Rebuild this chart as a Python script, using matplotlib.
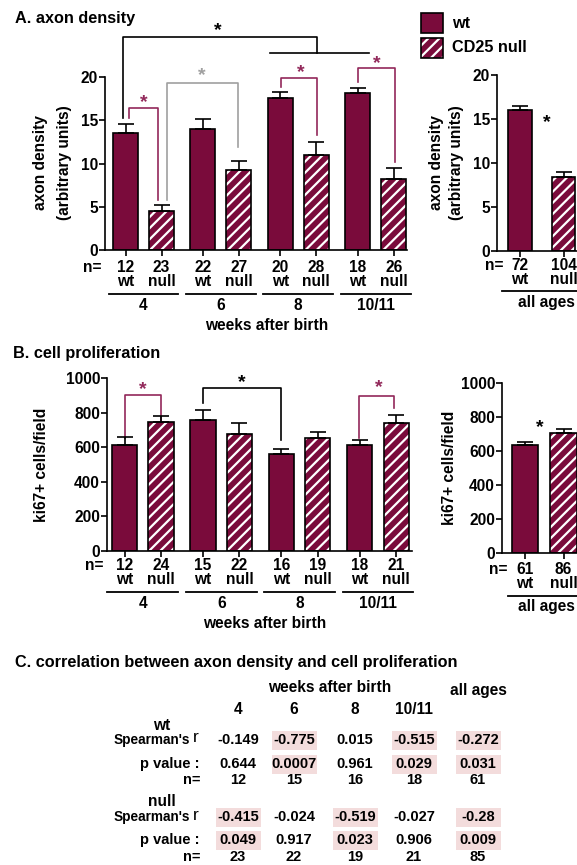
import matplotlib
matplotlib.use('Agg')
import matplotlib.pyplot as plt
from matplotlib.transforms import blended_transform_factory
from matplotlib.patches import Rectangle
import numpy as np

plt.rcParams['font.family'] = ['Liberation Sans', 'DejaVu Sans']
plt.rcParams['font.weight'] = 'bold'
plt.rcParams['hatch.linewidth'] = 1.6

W, H = 577, 865
CRIMSON = '#7a0b3b'
BRK = '#92285a'
GRAY = '#a0a0a0'
FS = 11.2

# ---------------- data ----------------
groups = ['4', '6', '8', '10/11']
genotypes = ['wt', 'null']

axon_mean = [13.5, 4.5, 14.0, 9.2, 17.6, 11.0, 18.2, 8.2]
axon_sem = [1.05, 0.7, 1.1, 1.1, 0.7, 1.5, 0.5, 1.3]
axon_n = [12, 23, 22, 27, 20, 28, 18, 26]
axon_all_mean = [16.0, 8.4]
axon_all_sem = [0.5, 0.6]
axon_all_n = [72, 104]

prolif_mean = [615, 745, 756, 678, 561, 653, 612, 741]
prolif_sem = [42, 35, 57, 59, 28, 35, 31, 48]
prolif_n = [12, 24, 15, 22, 16, 19, 18, 21]
prolif_all_mean = [636, 703]
prolif_all_sem = [18, 26]
prolif_all_n = [61, 86]

table_cols = ['4', '6', '8', '10/11', 'all ages']
wt_r = ['-0.149', '-0.775', '0.015', '-0.515', '-0.272']
wt_p = ['0.644', '0.0007', '0.961', '0.029', '0.031']
wt_nn = ['12', '15', '16', '18', '61']
null_r = ['-0.415', '-0.024', '-0.519', '-0.027', '-0.28']
null_p = ['0.049', '0.917', '0.023', '0.906', '0.009']
null_nn = ['23', '22', '19', '21', '85']

# ---------------- helpers ----------------
fig = plt.figure(figsize=(W / 100, H / 100), dpi=100)


def fx(x):
    return x / W


def fy(y):
    return 1 - y / H


def axes_px(x0, y0, x1, y1):
    return fig.add_axes([fx(x0), fy(y1), (x1 - x0) / W, (y1 - y0) / H])


def draw_bars(ax, pos, means, sems, width):
    kinds = genotypes * (len(means) // 2)
    for xi, m, k in zip(pos, means, kinds):
        if k == 'wt':
            ax.bar(xi, m, width, color=CRIMSON, edgecolor='black', linewidth=1.2, zorder=2)
        else:
            ax.bar(xi, m, width, color=CRIMSON, edgecolor='white', hatch='///', linewidth=0, zorder=2)
            ax.bar(xi, m, width, fill=False, edgecolor='black', linewidth=1.2, zorder=3)
    ax.errorbar(pos, means, yerr=[np.zeros(len(means)), sems], fmt='none', ecolor='black',
                elinewidth=1.2, capsize=6, capthick=1.2, zorder=4)


def style_axes(ax, pos, xlim, ylim, yticks):
    ax.set_xlim(*xlim)
    ax.set_ylim(*ylim)
    ax.set_yticks(yticks)
    ax.set_xticks(pos)
    ax.set_xticklabels([])
    for s in ['top', 'right']:
        ax.spines[s].set_visible(False)
    for s in ['left', 'bottom']:
        ax.spines[s].set_linewidth(1.2)
    ax.tick_params(axis='both', length=4, width=1.2, labelsize=FS, pad=1)
    ax.patch.set_alpha(0)


def n_labels(ax, pos, ns, y_n, y_g, nx):
    tr = blended_transform_factory(ax.transData, fig.transFigure)
    fig.text(fx(nx), fy(y_n), 'n=', ha='right', va='center', fontsize=FS)
    kinds = genotypes * (len(ns) // 2)
    for xi, n, k in zip(pos, ns, kinds):
        ax.text(xi, fy(y_n), str(n), transform=tr, ha='center', va='center', fontsize=FS)
        ax.text(xi, fy(y_g), k, transform=tr, ha='center', va='center', fontsize=FS)


def group_lines(ax, pos, labels, y_line, y_lab, half):
    tr = blended_transform_factory(ax.transData, fig.transFigure)
    for gi, lab in enumerate(labels):
        c = (pos[2 * gi] + pos[2 * gi + 1]) / 2
        ax.plot([c - half, c + half], [fy(y_line)] * 2, transform=tr, color='black',
                lw=1.3, clip_on=False)
        ax.text(c, fy(y_lab), lab, transform=tr, ha='center', va='center', fontsize=FS)


def bracket(ax, x0, y0, x1, y1, ytop, color, sx, sy):
    ax.plot([x0, x0, x1, x1], [y0, ytop, ytop, y1], color=color, lw=1.2, clip_on=False)
    ax.text(sx, sy, '*', color=color, ha='center', va='center', fontsize=14, clip_on=False)


pos = [g * 2.15 + k for g in range(len(groups)) for k in range(2)]
pos_all = [0, 1]

# ---------------- panel A ----------------
fig.text(fx(15), fy(19), 'A. axon density', fontsize=11.7, va='center')
axA = axes_px(105, 77, 407, 250)
draw_bars(axA, pos, axon_mean, axon_sem, 0.69)
style_axes(axA, pos, (-0.57, 7.82), (0, 20), [0, 5, 10, 15, 20])
n_labels(axA, pos, axon_n, 267, 282, 102)
group_lines(axA, pos, groups, 294, 306, 0.97)
fig.text(fx(267), fy(325), 'weeks after birth', ha='center', va='center', fontsize=FS)
fig.text(fx(41), fy(163), 'axon density', rotation=90, ha='center', va='center', fontsize=FS)
fig.text(fx(64), fy(163), '(arbitrary units)', rotation=90, ha='center', va='center', fontsize=FS)

bracket(axA, -0.07, 15.3, 5.32, 22.8, 24.6, 'black', 2.57, 25.4)
axA.plot([4.01, 6.76], [22.8, 22.8], color='black', lw=1.2, clip_on=False)
bracket(axA, 0.1, 15.3, 0.9, 5.8, 16.4, BRK, 0.5, 17.0)
bracket(axA, 1.15, 5.8, 3.12, 11.9, 19.3, GRAY, 2.13, 20.2)
bracket(axA, 4.32, 18.8, 5.32, 13.3, 19.9, BRK, 4.87, 20.5)
bracket(axA, 6.46, 19.4, 7.49, 10.2, 21.0, BRK, 6.97, 21.5)

axA2 = axes_px(497, 75, 577, 251)
draw_bars(axA2, pos_all, axon_all_mean, axon_all_sem, 0.55)
style_axes(axA2, pos_all, (-0.53, 1.31), (0, 20), [0, 5, 10, 15, 20])
n_labels(axA2, pos_all, axon_all_n, 265, 280, 504)
fig.add_artist(plt.Line2D([fx(502), fx(577)], [fy(291)] * 2, color='black', lw=1.3))
fig.text(fx(546), fy(302), 'all ages', ha='center', va='center', fontsize=FS)
fig.text(fx(437), fy(163), 'axon density', rotation=90, ha='center', va='center', fontsize=FS)
fig.text(fx(457), fy(163), '(arbitrary units)', rotation=90, ha='center', va='center', fontsize=FS)
axA2.text(0.62, 14.6, '*', ha='center', va='center', fontsize=14)

# legend
fig.add_artist(Rectangle((fx(421), fy(33)), 22 / W, 20 / H, transform=fig.transFigure,
                         facecolor=CRIMSON, edgecolor='black', lw=1.2))
fig.add_artist(Rectangle((fx(421), fy(58)), 22 / W, 20 / H, transform=fig.transFigure,
                         facecolor=CRIMSON, edgecolor='white', hatch='///', lw=0))
fig.add_artist(Rectangle((fx(421), fy(58)), 22 / W, 20 / H, transform=fig.transFigure,
                         fill=False, edgecolor='black', lw=1.2))
fig.text(fx(452), fy(23), 'wt', va='center', fontsize=11.7)
fig.text(fx(452), fy(48), 'CD25 null', va='center', fontsize=11.7)

# ---------------- panel B ----------------
fig.text(fx(13), fy(353), 'B. cell proliferation', fontsize=11.7, va='center')
axB = axes_px(107, 378, 412, 551)
draw_bars(axB, pos, prolif_mean, prolif_sem, 0.69)
style_axes(axB, pos, (-0.48, 7.88), (0, 1000), [0, 200, 400, 600, 800, 1000])
n_labels(axB, pos, prolif_n, 566, 580, 103)
group_lines(axB, pos, groups, 592, 603, 0.97)
fig.text(fx(265), fy(623), 'weeks after birth', ha='center', va='center', fontsize=FS)
fig.text(fx(42), fy(465), 'ki67+ cells/field', rotation=90, ha='center', va='center', fontsize=FS)

bracket(axB, 0.0, 653, 1.0, 757, 902, BRK, 0.5, 935)
bracket(axB, 2.15, 855, 4.29, 642, 942, 'black', 3.22, 975)
bracket(axB, 6.44, 653, 7.4, 827, 896, BRK, 6.96, 945)

axB2 = axes_px(502, 383, 577, 553)
draw_bars(axB2, pos_all, prolif_all_mean, prolif_all_sem, 0.68)
style_axes(axB2, pos_all, (-0.6, 1.35), (0, 1000), [0, 200, 400, 600, 800, 1000])
n_labels(axB2, pos_all, prolif_all_n, 569, 584, 507)
fig.add_artist(plt.Line2D([fx(508), fx(577)], [fy(596)] * 2, color='black', lw=1.3))
fig.text(fx(546), fy(607), 'all ages', ha='center', va='center', fontsize=FS)
fig.text(fx(450), fy(468), 'ki67+ cells/field', rotation=90, ha='center', va='center', fontsize=FS)
axB2.text(0.39, 735, '*', ha='center', va='center', fontsize=14)

# ---------------- panel C (table) ----------------
fig.text(fx(15), fy(662), 'C. correlation between axon density and cell proliferation',
         fontsize=11.7, va='center')
col_x = [238, 294, 355, 414, 478]
fig.text(fx(330), fy(687), 'weeks after birth', ha='center', va='center', fontsize=FS)
fig.text(fx(col_x[4]), fy(690), table_cols[4], ha='center', va='center', fontsize=FS)
for cx, lab in zip(col_x[:4], table_cols[:4]):
    fig.text(fx(cx), fy(710), lab, ha='center', va='center', fontsize=FS)

TFS = 10.5
HL = '#f3dcdc'


def table_block(name, y_name, y_r, y_p, y_n, rvals, pvals, nvals):
    fig.text(fx(162), fy(y_name), name, ha='center', va='center', fontsize=FS)
    fig.text(fx(190), fy(y_r), "Spearman's", ha='right', va='center', fontsize=9.8)
    fig.text(fx(193), fy(y_r - 2), 'r', ha='left', va='center', fontsize=12.5, fontweight='normal')
    fig.text(fx(200), fy(y_p), 'p value :', ha='right', va='center', fontsize=TFS)
    fig.text(fx(200), fy(y_n), 'n=', ha='right', va='center', fontsize=TFS)
    for cx, r, p, n in zip(col_x, rvals, pvals, nvals):
        if float(p) < 0.05:
            for yy in (y_r, y_p):
                fig.add_artist(Rectangle((fx(cx - 22.5), fy(yy + 9.5)), 45 / W, 19 / H,
                                         transform=fig.transFigure, facecolor=HL,
                                         edgecolor='none', zorder=0))
        fig.text(fx(cx), fy(y_r), r, ha='center', va='center', fontsize=TFS)
        fig.text(fx(cx), fy(y_p), p, ha='center', va='center', fontsize=TFS)
        fig.text(fx(cx), fy(y_n), n, ha='center', va='center', fontsize=TFS)


table_block('wt', 725, 740, 764, 780, wt_r, wt_p, wt_nn)
table_block('null', 801, 817, 840, 857, null_r, null_p, null_nn)

fig.savefig('out.png', dpi=100)
